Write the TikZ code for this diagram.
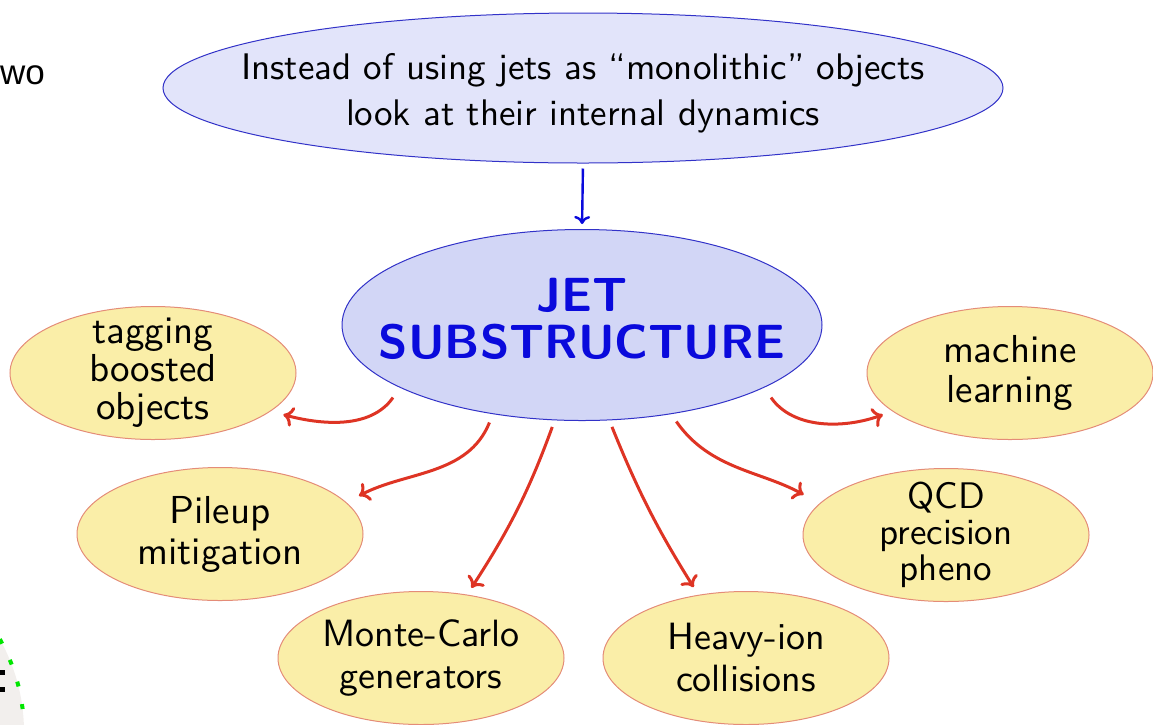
\documentclass[tikz,border=0pt]{standalone}
\usepackage{fontspec}
\setsansfont{lmsans10-regular.otf}[BoldFont=lmsans10-bold.otf, Ligatures=TeX]
\newfontfamily\artfont{Liberation Sans}
\usetikzlibrary{shapes.geometric,arrows.meta}
\definecolor{yfill}{RGB}{250,238,168}
\definecolor{ydraw}{RGB}{228,140,120}
\definecolor{topfill}{RGB}{226,228,250}
\definecolor{jsfill}{RGB}{210,214,246}
\definecolor{bdraw}{RGB}{50,50,200}
\definecolor{jsblue}{RGB}{10,10,220}
\definecolor{rarrow}{RGB}{222,52,36}
\definecolor{slidegray}{RGB}{242,239,237}
\definecolor{dashgreen}{RGB}{0,230,0}
\tikzset{
  ell/.style={ellipse, inner sep=0pt, line width=1pt},
  topbox/.style={ell, fill=topfill, draw=bdraw, minimum width=840pt, minimum height=150pt},
  jsbox/.style={ell, fill=jsfill, draw=bdraw, minimum width=480pt, minimum height=191pt},
  ybox/.style={ell, fill=yfill, draw=ydraw, minimum width=286pt, minimum height=133pt},
  toptext/.style={align=center, inner sep=0pt, yshift=-5pt, font=\sffamily\fontsize{37}{46}\selectfont},
  jstext/.style={align=center, inner sep=0pt, yshift=6pt, text=jsblue, font=\sffamily\bfseries\fontsize{48}{47}\selectfont},
  ytext/.style={align=center, inner sep=0pt, font=\sffamily\fontsize{39}{41}\selectfont},
  redarrow/.style={draw=rarrow, line width=3pt, -{Computer Modern Rightarrow[length=10pt,width=20pt]}},
  bluearrow/.style={draw=jsblue, line width=2.4pt, -{Computer Modern Rightarrow[length=8pt,width=16pt]}},
}
\begin{document}
\begin{tikzpicture}[x=1pt,y=1pt]
\useasboundingbox (0,0) rectangle (1153,-724);
\clip (0,0) rectangle (1153,-724);
% slide remnants at the left edge
\fill[slidegray] (-166,-732) circle (190);
\draw[dashgreen, line width=4pt, dash pattern=on 5pt off 18pt] (-166,-732) circle (190);
\fill (0,-670) rectangle (5,-675);
\fill (0,-687) rectangle (5,-692);
\node[anchor=base west, inner sep=0pt, font=\artfont\fontsize{35}{38}\selectfont] (wo) at (0,-84) {wo};
% nodes
\node[topbox, label={[toptext]center:{Instead of using jets as ``monolithic'' objects\\look at their internal dynamics}}] (top) at (583,-88) {};
\node[jsbox, label={[jstext]center:{JET\\SUBSTRUCTURE}}] (js) at (582,-325) {};
\node[ybox, label={[ytext, font=\sffamily\fontsize{39}{38}\selectfont]center:{tagging\\boosted\\objects}}] (tag) at (153,-373) {};
\node[ybox, label={[ytext]center:{Pileup\\mitigation}}] (pile) at (220,-534) {};
\node[ybox, label={[ytext, font=\sffamily\fontsize{38}{42}\selectfont]center:{Monte-Carlo\\generators}}] (mc) at (421,-658) {};
\node[ybox, label={[ytext, font=\sffamily\fontsize{38}{42}\selectfont]center:{Heavy-ion\\collisions}}] (hi) at (746,-658) {};
\node[ybox, label={[ytext, font=\sffamily\fontsize{37}{36}\selectfont]center:{QCD\\precision\\pheno}}] (qcd) at (946,-535) {};
\node[ybox, label={[ytext, font=\sffamily\fontsize{39}{40}\selectfont]center:{machine\\learning}}] (ml) at (1010,-373) {};
% connectors
\draw[bluearrow, shorten <=5pt, shorten >=5pt] (top.south) -- (js.north);
\draw[redarrow, shorten <=12pt, shorten >=13pt] (js.199) to[out=-125, in=-15] (tag.-18.7);
\draw[redarrow, shorten <=9pt, shorten >=14pt] (js.225) to[out=-112, in=28] (pile.14);
\draw[redarrow, shorten <=7pt, shorten >=8pt] (js.254) to[out=-110, in=57] (mc.54);
\draw[redarrow, shorten <=7pt, shorten >=9pt] (js.286) to[out=-68, in=122] (hi.127);
\draw[redarrow, shorten <=9pt, shorten >=18pt] (js.315) to[out=-55, in=151] (qcd.166);
\draw[redarrow, shorten <=12pt, shorten >=10pt] (js.341) to[out=-55, in=200] (ml.198);
\end{tikzpicture}
\end{document}
